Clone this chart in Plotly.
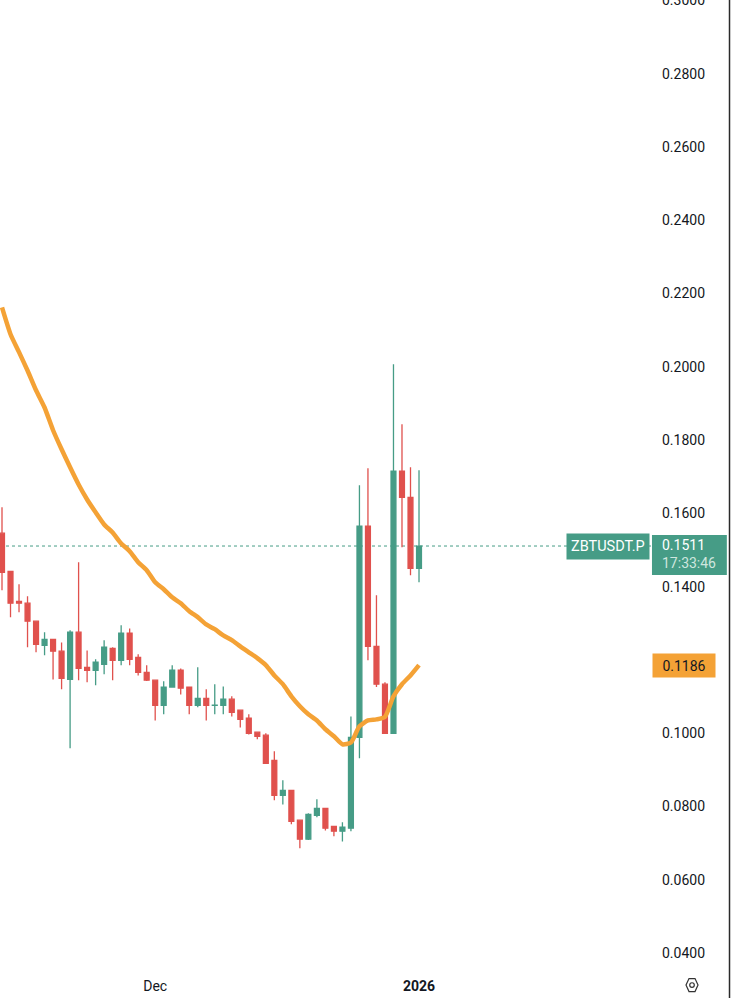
import plotly.graph_objects as go
import pandas as pd

# ---- data ----
start_date = "2025-11-13"
n_days = 50
dates = pd.date_range(start_date, periods=n_days, freq="D")

opens = [0.1546, 0.1442, 0.1360, 0.1355, 0.1306, 0.1240, 0.1256, 0.1224, 0.1147, 0.1276,
         0.1180, 0.1172, 0.1188, 0.1232, 0.1199, 0.1273, 0.1207, 0.1166, 0.1145, 0.1076,
         0.1126, 0.1172, 0.1126, 0.1076, 0.1095, 0.1076, 0.1076, 0.1093, 0.1063, 0.1041,
         0.1003, 0.0995, 0.0926, 0.0831, 0.0844, 0.0763, 0.0711, 0.0776, 0.0795, 0.0746,
         0.0733, 0.0741, 0.0989, 0.1565, 0.1237, 0.1134, 0.1000, 0.1715, 0.1644, 0.1450]
highs = [0.1617, 0.1442, 0.1407, 0.1374, 0.1306, 0.1276, 0.1258, 0.1248, 0.1281, 0.1467,
         0.1226, 0.1202, 0.1254, 0.1235, 0.1295, 0.1286, 0.1216, 0.1186, 0.1145, 0.1142,
         0.1186, 0.1177, 0.1126, 0.1180, 0.1120, 0.1134, 0.1128, 0.1101, 0.1063, 0.1052,
         0.1003, 0.1000, 0.0951, 0.0872, 0.0846, 0.0763, 0.0782, 0.0820, 0.0797, 0.0747,
         0.0757, 0.1046, 0.1677, 0.1723, 0.1377, 0.1139, 0.2007, 0.1843, 0.1726, 0.1718]
lows = [0.1390, 0.1317, 0.1330, 0.1235, 0.1221, 0.1213, 0.1147, 0.1120, 0.0959, 0.1145,
        0.1139, 0.1131, 0.1161, 0.1145, 0.1186, 0.1186, 0.1158, 0.1143, 0.1035, 0.1052,
        0.1124, 0.1106, 0.1052, 0.1071, 0.1035, 0.1052, 0.1052, 0.1046, 0.1016, 0.0997,
        0.0984, 0.0916, 0.0817, 0.0806, 0.0752, 0.0686, 0.0709, 0.0771, 0.0735, 0.0719,
        0.0705, 0.0733, 0.0932, 0.1199, 0.1126, 0.0998, 0.0998, 0.1508, 0.1431, 0.1412]
closes = [0.1439, 0.1355, 0.1355, 0.1306, 0.1243, 0.1256, 0.1224, 0.1150, 0.1276, 0.1177,
          0.1172, 0.1194, 0.1235, 0.1199, 0.1273, 0.1202, 0.1166, 0.1145, 0.1076, 0.1126,
          0.1172, 0.1123, 0.1076, 0.1095, 0.1076, 0.1077, 0.1093, 0.1057, 0.1038, 0.1000,
          0.0992, 0.0918, 0.0831, 0.0844, 0.0760, 0.0711, 0.0779, 0.0795, 0.0741, 0.0733,
          0.0744, 0.0989, 0.1565, 0.1237, 0.1134, 0.1000, 0.1715, 0.1644, 0.1450, 0.1511]
ma_values = [0.2162, 0.2089, 0.2040, 0.1990, 0.1936, 0.1889, 0.1827, 0.1775, 0.1726, 0.1679,
             0.1638, 0.1603, 0.1570, 0.1548, 0.1518, 0.1497, 0.1467, 0.1445, 0.1412, 0.1393,
             0.1371, 0.1355, 0.1333, 0.1317, 0.1297, 0.1284, 0.1267, 0.1254, 0.1237, 0.1221,
             0.1205, 0.1186, 0.1158, 0.1134, 0.1101, 0.1074, 0.1052, 0.1035, 0.1011, 0.0992,
             0.0970, 0.0975, 0.1019, 0.1035, 0.1038, 0.1045, 0.1101, 0.1134, 0.1158, 0.1186]

# 0.1200 is hidden behind the MA price label in the reference, so it is not listed
y_tick_values = [0.04, 0.06, 0.08, 0.10, 0.14, 0.16, 0.18, 0.20, 0.22, 0.24, 0.26, 0.28, 0.30]
y_tick_labels = ["0.0400", "0.0600", "0.0800", "0.1000", "0.1400", "0.1600",
                 "0.1800", "0.2000", "0.2200", "0.2400", "0.2600", "0.2800", "0.3000"]
x_tick_values = ["2025-12-01", "2026-01-01"]
x_tick_labels = ["Dec", "<b>2026</b>"]

symbol = "ZBTUSDT.P"
countdown = "17:33:46"

# ---- styling ----
UP = "#469c86"
DOWN = "#e0514d"
MA_COLOR = "#f4a236"
TEXT = "#131722"
FONT = "Roboto"

fig = go.Figure()

fig.add_trace(go.Scatter(
    x=dates, y=ma_values, mode="lines",
    line=dict(color=MA_COLOR, width=4.5, shape="spline", smoothing=0.6),
    hoverinfo="skip",
))

fig.add_trace(go.Candlestick(
    x=dates, open=opens, high=highs, low=lows, close=closes,
    increasing=dict(line=dict(color=UP, width=1.3), fillcolor=UP),
    decreasing=dict(line=dict(color=DOWN, width=1.3), fillcolor=DOWN),
    whiskerwidth=0,
    hoverinfo="skip",
))

last_close = closes[-1]
last_ma = ma_values[-1]

# last price dotted line
fig.add_shape(type="line", xref="paper", yref="y", x0=0, x1=1, y0=last_close, y1=last_close,
              line=dict(color=UP, width=1, dash="dot"), layer="below")

# symbol label
fig.add_annotation(xref="paper", yref="y", x=0.998, y=last_close, xanchor="right", yanchor="middle",
                   text=symbol, showarrow=False, bgcolor=UP, borderpad=4,
                   font=dict(family=FONT, size=14.5, color="white"))

# price label box (fixed pixel height around the last price)
fig.add_shape(type="rect", xref="paper", yref="y", ysizemode="pixel", yanchor=last_close,
              x0=1.0015, x1=1.1165, y0=-29, y1=11,
              fillcolor=UP, line=dict(width=0), layer="above")
# price label text with countdown
fig.add_annotation(xref="paper", yref="y", x=1.0, y=last_close, xanchor="left", yanchor="top",
                   xshift=8, yshift=12, align="left",
                   text=f"{last_close:.4f}<br><span style='color:#cfe6df'>{countdown}</span>",
                   showarrow=False, borderpad=2,
                   font=dict(family=FONT, size=14, color="white"))

# MA label
fig.add_annotation(xref="paper", yref="y", x=1.0015, y=last_ma, xanchor="left", yanchor="middle",
                   width=56, height=17, align="center",
                   text=f"{last_ma:.4f}", showarrow=False, bgcolor=MA_COLOR, borderpad=3,
                   font=dict(family=FONT, size=14, color=TEXT))

# right border line
fig.add_shape(type="line", xref="paper", yref="paper", x0=1.1206, x1=1.1206, y0=-0.04, y1=1.01,
              line=dict(color="#2a2a2a", width=1.5))

# settings hexagon icon in the time-scale corner
fig.add_shape(type="path", xref="paper", yref="paper", xsizemode="pixel", ysizemode="pixel",
              xanchor=1.063, yanchor=-0.0197,
              path="M -6 0 L -3 6.5 L 3 6.5 L 6 0 L 3 -6.5 L -3 -6.5 Z",
              line=dict(color="#333", width=1.2))
fig.add_shape(type="circle", xref="paper", yref="paper", xsizemode="pixel", ysizemode="pixel",
              xanchor=1.063, yanchor=-0.0197, x0=-2.3, x1=2.3, y0=-2.3, y1=2.3,
              line=dict(color="#333", width=1.2))

fig.update_layout(
    width=731, height=998,
    margin=dict(l=0, r=80, t=0, b=32, autoexpand=False),
    paper_bgcolor="white", plot_bgcolor="white",
    showlegend=False,
    boxgap=0.18,
    font=dict(family=FONT, color=TEXT),
    xaxis=dict(
        type="date",
        range=["2025-11-12 18:21", "2026-01-28 06:14"],
        rangeslider=dict(visible=False),
        showgrid=False, zeroline=False, showline=False, ticks="",
        tickvals=x_tick_values, ticktext=x_tick_labels,
        tickfont=dict(family=FONT, size=14, color=TEXT),
        ticklabelstandoff=10,
        automargin=False,
        fixedrange=True,
    ),
    yaxis=dict(
        side="right",
        range=[0.0365, 0.3001],
        showgrid=False, zeroline=False, showline=False, ticks="",
        tickvals=y_tick_values, ticktext=y_tick_labels,
        tickfont=dict(family=FONT, size=14, color=TEXT),
        ticklabelstandoff=10,
        ticklabeloverflow="allow",
        automargin=False,
        fixedrange=True,
    ),
)

fig.write_html("out.html", config={"displayModeBar": False},
               post_script="document.body.style.margin='0';document.body.style.overflow='hidden';")
